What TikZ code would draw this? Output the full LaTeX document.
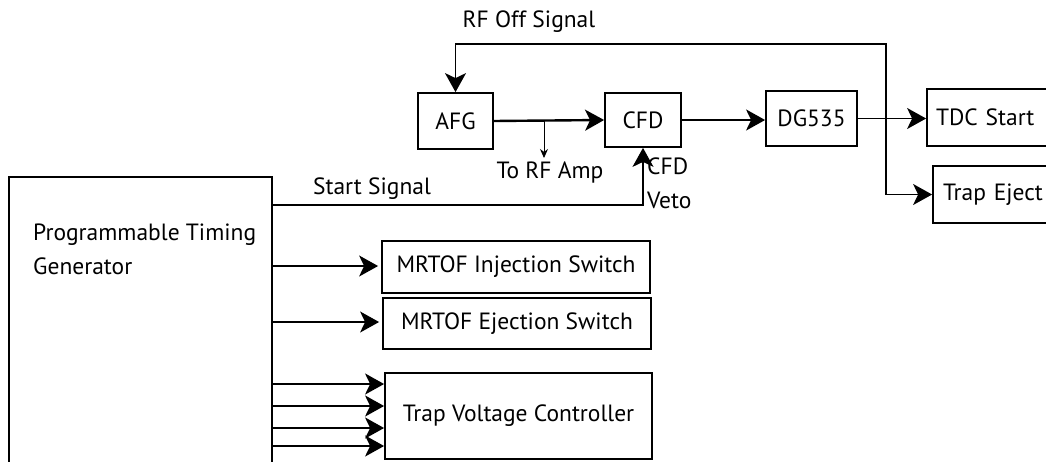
\documentclass[tikz,border=0pt]{standalone}
\usepackage{fontspec}
\setmainfont{PT Sans}
\usetikzlibrary{arrows.meta}
\begin{document}
\begin{tikzpicture}[x=1pt,y=-1pt,
  box/.style={draw, line width=1.8pt, inner sep=0pt, rectangle, font=\fontsize{23.5}{30}\selectfont},
  lbl/.style={inner sep=0pt, font=\fontsize{23.5}{34}\selectfont},
  sig/.style={line width=1.5pt, -{Stealth[length=19pt,width=21pt,inset=5pt]}},
  thick sig/.style={sig, line width=2.4pt},
]
\useasboundingbox (0,0) rectangle (1046,461);
\clip (0,0) rectangle (1046,461);
% boxes
\node[box, minimum width=263pt, minimum height=353pt] (ptg) at (140.5,353.5) {};
\node[lbl, anchor=north west, align=left] (ptgtext) at (33,224) {Programmable Timing\\Generator};
\node[box, minimum width=75pt, minimum height=56pt] (afg) at (455.5,121) {AFG};
\node[box, minimum width=76pt, minimum height=54pt] (cfd) at (643,120) {CFD};
\node[box, minimum width=91pt, minimum height=55pt] (dg) at (811.5,118.5) {DG535};
\node[box, minimum width=150pt, minimum height=57pt, text width=132pt, align=left, inner xsep=9pt] (tdc) at (1002,117.5) {TDC Start};
\node[box, minimum width=150pt, minimum height=57pt, text width=130pt, align=left, inner xsep=10pt] (tej) at (1008,194.5) {Trap Eject};
\node[box, minimum width=268pt, minimum height=52pt] (inj) at (516,267) {MRTOF Injection Switch};
\node[box, minimum width=268pt, minimum height=51pt] (ejs) at (517,323.5) {MRTOF Ejection Switch};
\node[box, minimum width=267pt, minimum height=86pt] (tvc) at (518.5,416) {Trap Voltage Controller};
% labels
\node[lbl] (rfofflbl) at (529,22) {RF Off Signal};
\node[lbl] (rfamplbl) at (550,172) {To RF Amp};
\node[lbl] (startlbl) at (372,189) {Start Signal};
\node[lbl, anchor=north west, align=left] (vetolbl) at (647,158) {CFD\\Veto};
% connectors
\draw[thick sig] (afg.east) -- (cfd.west);
\coordinate (br) at (544,121);
\coordinate (rfamp) at (544,158);
\draw[line width=0.9pt, -{Stealth[length=9pt,width=8pt]}] (br) -- (rfamp);
\draw[sig, line width=2pt] (cfd.east) -- (cfd.east -| dg.west);
\draw[sig] (dg.east) -- (dg.east -| tdc.west);
\coordinate (looptop) at (886,44);
\coordinate (loopbot) at (886,194.5);
\draw[sig] (loopbot) -- (looptop) -| (afg.north);
\draw[sig] (loopbot) -- (tej.west);
\coordinate (ss) at (272,205);
\draw[sig, line width=1.3pt] (ss) -| (cfd.south);
\foreach \y/\t in {266/inj, 322/ejs} {
  \draw[sig, shorten >=3pt] (272,\y) -- (272,\y -| \t.west);
}
\foreach \y in {384,406,428,446} {
  \draw[sig, line width=2pt] (272,\y) -- (272,\y -| tvc.west);
}
\end{tikzpicture}
\end{document}
